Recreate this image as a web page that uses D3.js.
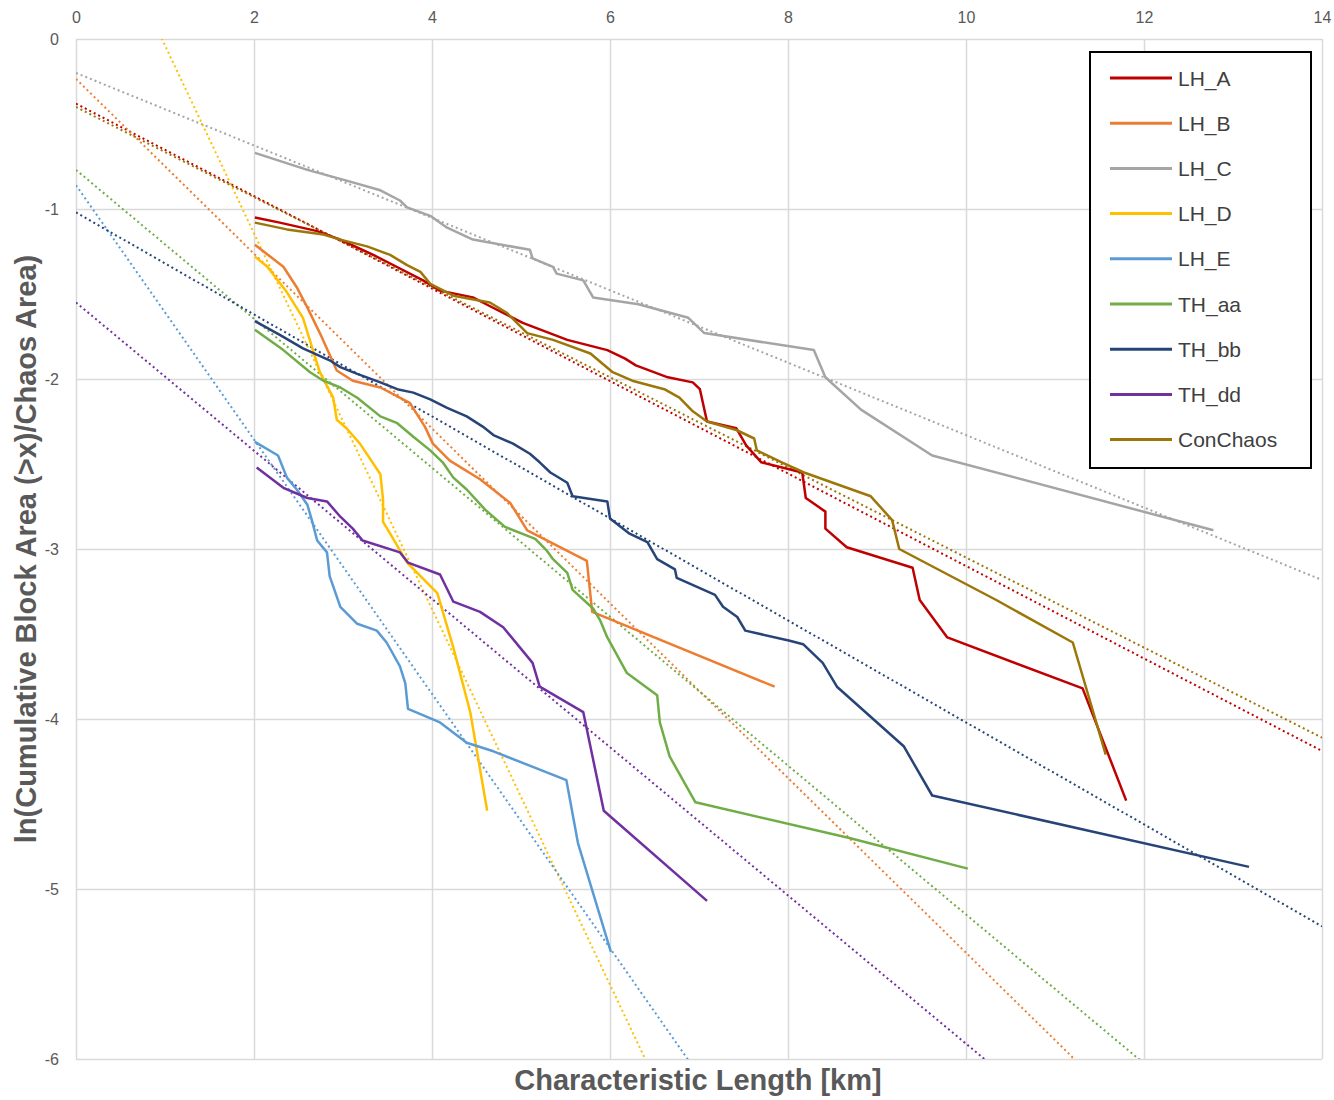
<!DOCTYPE html>
<html>
<head>
<meta charset="utf-8">
<script src="https://cdn.jsdelivr.net/npm/d3@7/dist/d3.min.js"></script>
<style>
  body { margin: 0; background: #fff; }
  text { font-family: "Liberation Sans", Arial, sans-serif; }
</style>
</head>
<body>
<div id="chart"></div>
<script>
// series names and colours
const seriesNames = ["LH_A", "LH_B", "LH_C", "LH_D", "LH_E", "TH_aa", "TH_bb", "TH_dd", "ConChaos"];
const seriesColors = ["#C00000", "#ED7D31", "#A5A5A5", "#FFC000", "#5B9BD5", "#70AD47", "#264478", "#7030A0", "#9C7608"];

// [characteristic length km, ln(cumulative area / chaos area)]
const lhA = [[2.01,-1.05],[2.29,-1.08],[2.71,-1.13],[2.97,-1.18],[3.34,-1.27],[3.64,-1.35],[3.90,-1.42],[4.09,-1.48],[4.46,-1.52],[4.57,-1.55],[5.02,-1.67],[5.52,-1.77],[5.97,-1.83],[6.17,-1.88],[6.29,-1.92],[6.65,-1.99],[6.93,-2.02],[7.01,-2.06],[7.09,-2.25],[7.42,-2.29],[7.53,-2.39],[7.70,-2.49],[8.16,-2.55],[8.20,-2.70],[8.42,-2.78],[8.42,-2.88],[8.66,-2.99],[9.40,-3.11],[9.48,-3.30],[9.79,-3.52],[11.31,-3.82],[11.80,-4.48]];
const lhB = [[2.01,-1.21],[2.33,-1.34],[2.48,-1.46],[2.60,-1.58],[2.74,-1.73],[2.93,-1.95],[3.11,-2.01],[3.42,-2.05],[3.75,-2.14],[3.92,-2.28],[4.01,-2.38],[4.20,-2.48],[4.54,-2.59],[4.88,-2.73],[5.07,-2.89],[5.74,-3.07],[5.80,-3.37],[7.85,-3.81]];
const lhC = [[2.01,-0.67],[2.60,-0.77],[3.02,-0.83],[3.42,-0.89],[3.64,-0.95],[3.72,-0.99],[3.98,-1.04],[4.17,-1.11],[4.46,-1.18],[5.10,-1.24],[5.13,-1.29],[5.36,-1.34],[5.40,-1.38],[5.70,-1.42],[5.81,-1.52],[6.32,-1.56],[6.88,-1.64],[7.06,-1.73],[8.29,-1.83],[8.42,-1.99],[8.82,-2.18],[9.62,-2.45],[12.78,-2.89]];
const lhD = [[2.01,-1.28],[2.15,-1.34],[2.37,-1.49],[2.55,-1.64],[2.65,-1.81],[2.74,-1.96],[2.89,-2.11],[2.93,-2.24],[3.04,-2.29],[3.19,-2.38],[3.42,-2.56],[3.45,-2.71],[3.45,-2.84],[3.53,-2.91],[3.72,-3.08],[4.06,-3.26],[4.24,-3.58],[4.43,-3.96],[4.62,-4.54]];
const lhE = [[2.01,-2.37],[2.27,-2.45],[2.37,-2.58],[2.48,-2.65],[2.60,-2.74],[2.65,-2.83],[2.71,-2.95],[2.82,-3.02],[2.85,-3.16],[2.97,-3.34],[3.16,-3.44],[3.38,-3.48],[3.49,-3.55],[3.64,-3.69],[3.70,-3.79],[3.73,-3.94],[4.09,-4.02],[4.39,-4.14],[4.69,-4.19],[5.51,-4.36],[5.64,-4.73],[6.01,-5.37]];
const thAa = [[2.01,-1.71],[2.33,-1.83],[2.63,-1.96],[2.78,-2.01],[2.97,-2.05],[3.16,-2.11],[3.42,-2.22],[3.61,-2.26],[3.79,-2.34],[3.98,-2.42],[4.12,-2.49],[4.24,-2.58],[4.39,-2.65],[4.60,-2.77],[4.82,-2.87],[5.16,-2.94],[5.29,-3.01],[5.36,-3.06],[5.52,-3.14],[5.58,-3.24],[5.81,-3.35],[5.89,-3.42],[5.97,-3.52],[6.19,-3.73],[6.53,-3.86],[6.56,-4.02],[6.67,-4.22],[6.96,-4.49],[8.69,-4.70],[10.02,-4.88]];
const thBb = [[2.01,-1.66],[2.29,-1.74],[2.55,-1.82],[2.85,-1.89],[2.97,-1.93],[3.16,-1.97],[3.42,-2.02],[3.61,-2.06],[3.79,-2.08],[3.98,-2.12],[4.17,-2.17],[4.39,-2.22],[4.57,-2.28],[4.69,-2.33],[4.91,-2.38],[5.10,-2.44],[5.21,-2.49],[5.33,-2.55],[5.52,-2.61],[5.58,-2.69],[5.97,-2.72],[6.00,-2.82],[6.22,-2.91],[6.42,-2.96],[6.53,-3.06],[6.73,-3.12],[6.75,-3.17],[7.18,-3.27],[7.27,-3.34],[7.43,-3.40],[7.52,-3.48],[8.02,-3.54],[8.17,-3.56],[8.39,-3.67],[8.55,-3.81],[9.30,-4.16],[9.62,-4.45],[13.18,-4.87]];
const thDd = [[2.03,-2.52],[2.33,-2.64],[2.60,-2.70],[2.82,-2.72],[2.97,-2.81],[3.11,-2.88],[3.22,-2.95],[3.64,-3.02],[3.73,-3.08],[4.09,-3.15],[4.24,-3.31],[4.54,-3.37],[4.80,-3.46],[5.13,-3.67],[5.21,-3.81],[5.70,-3.96],[5.93,-4.54],[7.09,-5.07]];
const conChaos = [[2.01,-1.08],[2.37,-1.12],[2.78,-1.15],[2.97,-1.18],[3.27,-1.22],[3.53,-1.27],[3.72,-1.33],[3.87,-1.37],[3.98,-1.44],[4.24,-1.51],[4.65,-1.55],[4.84,-1.61],[5.07,-1.73],[5.36,-1.77],[5.78,-1.85],[6.03,-1.96],[6.25,-2.01],[6.61,-2.06],[6.78,-2.11],[6.93,-2.19],[7.09,-2.25],[7.42,-2.30],[7.62,-2.35],[7.65,-2.42],[7.93,-2.49],[8.18,-2.55],[8.93,-2.69],[9.17,-2.83],[9.25,-3.00],[10.34,-3.30],[11.20,-3.55],[11.57,-4.21]];

// linear trendlines (dotted), one per series
const trendIntercepts = [-0.38, -0.235, -0.20, 1.067, -0.86, -0.77, -1.02, -1.55, -0.40];
const trendSlopes = [-0.272, -0.514, -0.213, -1.105, -0.748, -0.438, -0.300, -0.436, -0.265];

const xTicks = [0, 2, 4, 6, 8, 10, 12, 14];
const yTicks = [0, -1, -2, -3, -4, -5, -6];

const allSeries = [lhA, lhB, lhC, lhD, lhE, thAa, thBb, thDd, conChaos];

const margin = { top: 39, right: 12, bottom: 41, left: 76 };
const totalWidth = 1334, totalHeight = 1100;
const width = totalWidth - margin.left - margin.right;
const height = totalHeight - margin.top - margin.bottom;

const x = d3.scaleLinear().domain([0, 14]).range([0, width]);
const y = d3.scaleLinear().domain([-6, 0]).range([height, 0]);

const svg = d3.select("#chart").append("svg")
    .attr("width", totalWidth)
    .attr("height", totalHeight)
    .style("display", "block");

const g = svg.append("g")
    .attr("transform", "translate(" + margin.left + "," + margin.top + ")");

g.append("clipPath").attr("id", "plot-clip")
  .append("rect").attr("width", width).attr("height", height);

// gridlines + tick labels
const xAxis = g.append("g")
    .call(d3.axisTop(x).tickValues(xTicks).tickSizeInner(-height).tickSizeOuter(0).tickPadding(16));
const yAxis = g.append("g")
    .call(d3.axisLeft(y).tickValues(yTicks).tickSizeInner(-width).tickSizeOuter(0).tickPadding(17)
      .tickFormat(d => String(d)));

[xAxis, yAxis].forEach(a => {
  a.select(".domain").remove();
  a.selectAll(".tick line").attr("stroke", "#d9d9d9").attr("stroke-width", 1.5);
  a.selectAll(".tick text").attr("fill", "#595959").style("font-size", "16px")
    .style("font-family", "'Liberation Sans', Arial, sans-serif");
});

const line = d3.line().x(d => x(d[0])).y(d => y(d[1]));

// trendlines
const plot = g.append("g").attr("clip-path", "url(#plot-clip)");
trendSlopes.forEach((s, i) => {
  const pts = [[0, trendIntercepts[i]], [14, trendIntercepts[i] + s * 14]];
  plot.append("path")
    .attr("d", line(pts))
    .attr("fill", "none")
    .attr("stroke", seriesColors[i])
    .attr("stroke-width", 2)
    .attr("stroke-dasharray", "2,3");
});

// data lines
allSeries.forEach((data, i) => {
  plot.append("path")
    .datum(data)
    .attr("d", line)
    .attr("fill", "none")
    .attr("stroke", seriesColors[i])
    .attr("stroke-width", 2.5)
    .attr("stroke-linejoin", "round");
});

// axis titles
svg.append("text")
    .attr("x", 698).attr("y", 1090)
    .attr("text-anchor", "middle")
    .attr("fill", "#595959")
    .style("font-size", "29px").style("font-weight", "bold")
    .text("Characteristic Length [km]");

svg.append("text")
    .attr("transform", "translate(36,549) rotate(-90)")
    .attr("text-anchor", "middle")
    .attr("fill", "#595959")
    .style("font-size", "29px").style("font-weight", "bold")
    .text("ln(Cumulative Block Area (>x)/Chaos Area)");

// legend
const legend = svg.append("g").attr("transform", "translate(1090,52)");
legend.append("rect")
    .attr("width", 221).attr("height", 416)
    .attr("fill", "#fff").attr("stroke", "#000").attr("stroke-width", 2);
seriesNames.forEach((name, i) => {
  const ly = 26 + i * 45.2;
  legend.append("line")
    .attr("x1", 20).attr("x2", 82).attr("y1", ly).attr("y2", ly)
    .attr("stroke", seriesColors[i]).attr("stroke-width", 3);
  legend.append("text")
    .attr("x", 88).attr("y", ly + 7.5)
    .attr("fill", "#404040")
    .style("font-size", "21px")
    .text(name);
});
</script>
</body>
</html>
